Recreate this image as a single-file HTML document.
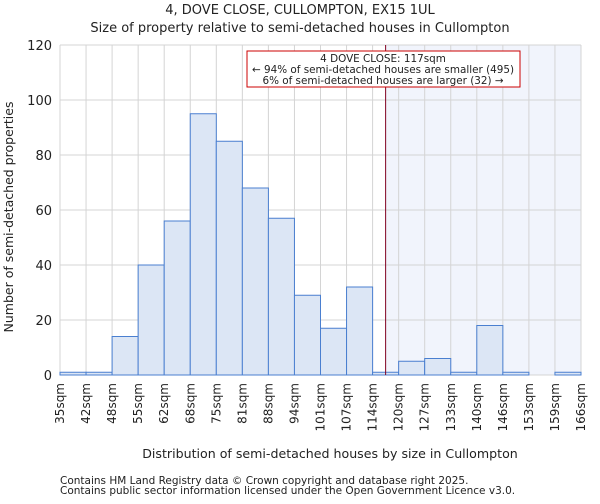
<!DOCTYPE html>
<html><head><meta charset="utf-8"><style>
body{margin:0;background:#fff;font-family:"DejaVu Sans","Liberation Sans",sans-serif}
text{font-family:"DejaVu Sans","Liberation Sans",sans-serif;fill:#222}
</style></head><body>
<svg width="600" height="500" id="chart">
<text x="300" y="14" text-anchor="middle" font-size="13">4, DOVE CLOSE, CULLOMPTON, EX15 1UL</text>
<text x="300" y="32" text-anchor="middle" font-size="13">Size of property relative to semi-detached houses in Cullompton</text>
<g id="plot"></g>
<text x="330" y="458" text-anchor="middle" font-size="12.6">Distribution of semi-detached houses by size in Cullompton</text>
<text transform="translate(13,217) rotate(-90)" text-anchor="middle" font-size="12.5">Number of semi-detached properties</text>
<text x="60" y="484" font-size="10.5" fill="#444">Contains HM Land Registry data © Crown copyright and database right 2025.</text>
<text x="60" y="494" font-size="10.5" fill="#444">Contains public sector information licensed under the Open Government Licence v3.0.</text>
</svg>
<script>
const binLabels=["35sqm","42sqm","48sqm","55sqm","62sqm","68sqm","75sqm","81sqm","88sqm","94sqm","101sqm","107sqm","114sqm","120sqm","127sqm","133sqm","140sqm","146sqm","153sqm","159sqm","166sqm"];
const counts=[1,1,14,40,56,95,85,68,57,29,17,32,1,5,6,1,18,1,0,1];
const yTicks=[0,20,40,60,80,100,120];
const markerBin=12.5;
const NS="http://www.w3.org/2000/svg";
const L=60,R=581,T=45,B=375,yMax=120;
const g=document.getElementById('plot');
const bw=(R-L)/counts.length;
const xs=i=>L+i*bw;
const ys=v=>B-v/yMax*(B-T);
function mk(t,a){const e=document.createElementNS(NS,t);for(const k in a)e.setAttribute(k,a[k]);g.appendChild(e);return e;}
let e;
e=mk('rect',{x:xs(markerBin),y:T,width:R-xs(markerBin),height:B-T,fill:'#f1f4fc'});


for(let i=0;i<binLabels.length;i++){
 e=mk('line',{x1:xs(i),x2:xs(i),y1:T,y2:B,stroke:'#d4d4d4','stroke-width':1});
 
 
 e=mk('text',{transform:`translate(${xs(i)+4},${B+8}) rotate(-90)`,'text-anchor':'end','font-size':12});
 e.textContent=binLabels[i];
 
 
}
yTicks.forEach(v=>{
 e=mk('line',{x1:L,x2:R,y1:ys(v),y2:ys(v),stroke:'#d4d4d4','stroke-width':1});
 
 
 e=mk('text',{x:L-8,y:ys(v)+5,'text-anchor':'end','font-size':13});
 e.textContent=v;
 
 
});
counts.forEach((c,i)=>{
 if(c<=0)return;
 e=mk('rect',{x:xs(i),y:ys(c),width:bw,height:B-ys(c),fill:'#dce6f5',stroke:'#4a7fd0','stroke-width':1});
 
 
});
e=mk('line',{x1:xs(markerBin),x2:xs(markerBin),y1:T,y2:B,stroke:'#800020','stroke-width':1});


e=mk('rect',{x:247,y:51,width:273,height:36,fill:'#fff',stroke:'#cc0000','stroke-width':1});


["4 DOVE CLOSE: 117sqm","← 94% of semi-detached houses are smaller (495)","6% of semi-detached houses are larger (32) →"].forEach((s,k)=>{
 e=mk('text',{x:383,y:62+k*11,'text-anchor':'middle','font-size':10.4});
 e.textContent=s;
 
 
});
</script>
</body></html>
